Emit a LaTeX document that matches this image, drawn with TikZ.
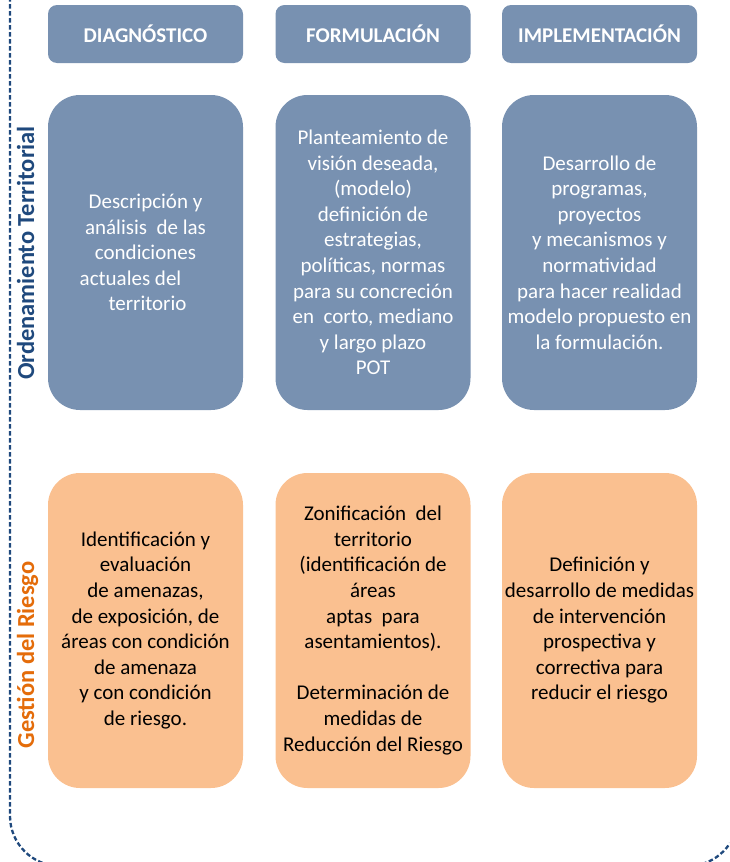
\documentclass[tikz,border=0pt]{standalone}
\usepackage{fontspec}
\setmainfont{Carlito}
\definecolor{boxblue}{RGB}{120,145,177}
\definecolor{boxorange}{RGB}{250,192,144}
\definecolor{labelblue}{RGB}{31,73,125}
\definecolor{labelorange}{RGB}{228,108,10}
\definecolor{dashblue}{RGB}{31,73,125}
\tikzset{
  headbox/.style={fill=boxblue, rounded corners=9pt, minimum width=195pt, minimum height=58pt,
    inner sep=0pt, text=white, font=\fontsize{21}{24}\selectfont\bfseries},
  bluebox/.style={fill=boxblue, rounded corners=32pt, minimum width=195pt, minimum height=315pt,
    inner sep=0pt, text=white, align=center, font=\fontsize{21}{25.6}\selectfont},
  orangebox/.style={fill=boxorange, rounded corners=32pt, minimum width=195pt, minimum height=315pt,
    inner sep=0pt, text=black, align=center, font=\fontsize{21}{25.6}\selectfont},
  sidelabel/.style={rotate=90, anchor=base, font=\fontsize{24.5}{29}\selectfont\bfseries},
  frame/.style={draw=dashblue, line width=2.3pt, dash pattern=on 4.5pt off 2.5pt, rounded corners=50pt}
}
\begin{document}
\begin{tikzpicture}[x=1pt,y=-1pt]
\useasboundingbox (0,0) rectangle (729,862);
\begin{scope}
  \clip (0,0) rectangle (729,862);
  \draw[frame] (10,-60) rectangle (738,866);
\end{scope}

\node[headbox] (h1) at (145.5,34) {DIAGNÓSTICO};
\node[headbox] (h2) at (373,34) {FORMULACIÓN};
\node[headbox] (h3) at (599.5,34) {IMPLEMENTACIÓN};

\node[bluebox] (b1) at (145.5,252.5) {Descripción y\\análisis\ \ de las\\condiciones\\actuales del\rule{30pt}{0pt}\\\rule{4pt}{0pt}territorio};
\node[bluebox] (b2) at (373,252.5) {Planteamiento de\\visión deseada,\\(modelo)\\definición de\\estrategias,\\políticas, normas\\para su concreción\\en\ \ corto, mediano\\y largo plazo\\POT};
\node[bluebox] (b3) at (599.5,252.5) {Desarrollo de\\programas,\\proyectos\\y mecanismos y\\normatividad\\para hacer realidad\\modelo propuesto en\\la formulación.};

\node[orangebox] (o1) at (145.5,630.5) {Identificación y\\evaluación\\de amenazas,\\de exposición, de\\áreas con condición\\de amenaza\\y con condición\\de riesgo.};
\node[orangebox] (o2) at (373,630.5) {Zonificación\ \ del\\territorio\\(identificación de\\áreas\\aptas\ \ para\\asentamientos).\\[25.6pt]Determinación de\\medidas de\\Reducción del Riesgo};
\node[orangebox] (o3) at (599.5,630.5) {Definición y\\desarrollo de medidas\\de intervención\\prospectiva y\\correctiva para\\reducir el riesgo};

\node[sidelabel, text=labelblue] (l1) at (34,253) {Ordenamiento Territorial};
\node[sidelabel, text=labelorange] (l2) at (34,655) {Gestión del Riesgo};
\end{tikzpicture}
\end{document}
